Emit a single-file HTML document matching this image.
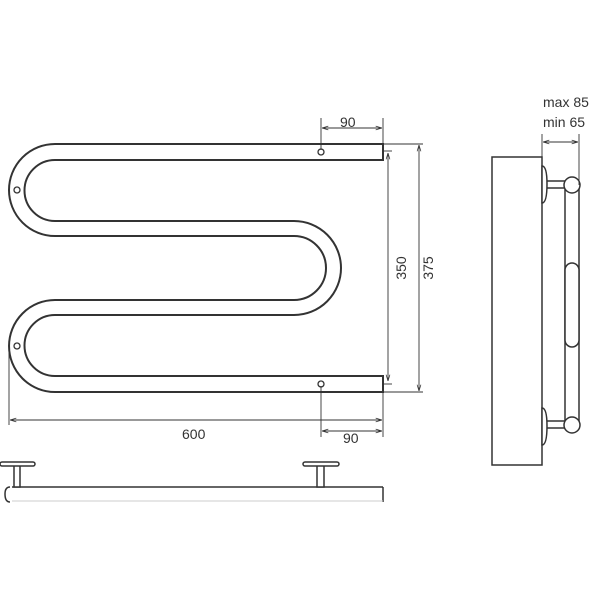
<!DOCTYPE html>
<html><head><style>body{margin:0;background:#fff}svg{display:block}text{font-family:"Liberation Sans",sans-serif;fill:#333;font-size:14px}</style></head><body>
<svg width="600" height="600" viewBox="0 0 600 600" xmlns="http://www.w3.org/2000/svg">
<defs><marker id="a" viewBox="0 0 10 10" refX="10" refY="5" markerWidth="7" markerHeight="7" orient="auto-start-reverse"><path d="M0,2 L10,5 L0,8" fill="none" stroke="#333" stroke-width="1.2"/></marker></defs>
<g fill="none" stroke="#333" stroke-width="2">
<path d="M383,144 H55 A46,46 0 0 0 55,236 H294 A32,32 0 0 1 294,300 H55 A46,46 0 0 0 55,392 H383 V376 H55 A30.5,30.5 0 0 1 55,315 H294 A47,47 0 0 0 294,221 H55 A30.5,30.5 0 0 1 55,160 H383 Z"/>
</g>
<g fill="none" stroke="#333" stroke-width="1.3">
<circle cx="321" cy="152" r="3"/><circle cx="17" cy="190" r="3"/><circle cx="17" cy="346" r="3"/><circle cx="321" cy="384" r="3"/>
</g>
<g stroke="#333" stroke-width="0.9" fill="none">
<line x1="321" y1="118" x2="321" y2="150"/><line x1="383" y1="118" x2="383" y2="144"/>
<line x1="322" y1="128" x2="382" y2="128" marker-start="url(#a)" marker-end="url(#a)"/>
<line x1="383" y1="144" x2="423" y2="144"/><line x1="383" y1="392" x2="423" y2="392"/>
<line x1="419" y1="145" x2="419" y2="391" marker-start="url(#a)" marker-end="url(#a)"/>
<line x1="388" y1="153" x2="388" y2="381" marker-start="url(#a)" marker-end="url(#a)"/>
<line x1="383" y1="151" x2="392" y2="151"/><line x1="383" y1="384" x2="392" y2="384"/>
<line x1="9" y1="346" x2="9" y2="425"/><line x1="383" y1="392" x2="383" y2="437"/>
<line x1="10" y1="420" x2="382" y2="420" marker-start="url(#a)" marker-end="url(#a)"/>
<line x1="321" y1="386" x2="321" y2="437"/>
<line x1="322" y1="431" x2="382" y2="431" marker-start="url(#a)" marker-end="url(#a)"/>
</g>
<text x="340" y="127">90</text>
<text x="343" y="443">90</text>
<text x="182" y="439">600</text>
<text transform="translate(406,268) rotate(-90)" text-anchor="middle">350</text>
<text transform="translate(433,268) rotate(-90)" text-anchor="middle">375</text>
<!-- side view -->
<g fill="#fff" stroke="#333" stroke-width="1.5">
<rect x="492" y="157" width="50" height="308"/>
<rect x="565" y="185" width="14" height="240"/>
<rect x="565" y="263" width="14" height="84" rx="7"/>
<rect x="546" y="181" width="20" height="7"/><rect x="546" y="421" width="20" height="7"/>
<path d="M542,166 Q547,166 547,184 Q547,203 542,203 Z"/>
<path d="M542,408 Q547,408 547,426 Q547,445 542,445 Z"/>
<circle cx="572" cy="185" r="8"/><circle cx="572" cy="425" r="8"/>
</g>
<g stroke="#333" stroke-width="0.9"><line x1="542" y1="134" x2="542" y2="157"/><line x1="579" y1="134" x2="579" y2="185"/>
<line x1="543" y1="142" x2="578" y2="142" marker-start="url(#a)" marker-end="url(#a)"/></g>
<text x="543" y="107">max 85</text><text x="543" y="127">min 65</text>
<!-- bottom view -->
<g fill="#fff" stroke="#333" stroke-width="1.5">
<path d="M10,487 Q5,487 5,494 Q5,502 10,502" fill="none"/>
<line x1="12" y1="487" x2="383" y2="487"/><line x1="383" y1="487" x2="383" y2="502"/>
<line x1="12" y1="501" x2="383" y2="501" stroke="#ccc" stroke-width="1"/>
<rect x="14" y="465" width="6" height="22"/><rect x="317" y="465" width="7" height="22"/>
<rect x="0" y="462" width="35" height="4" rx="2"/><rect x="303" y="462" width="36" height="4" rx="2"/>
</g>
</svg>
</body></html>
